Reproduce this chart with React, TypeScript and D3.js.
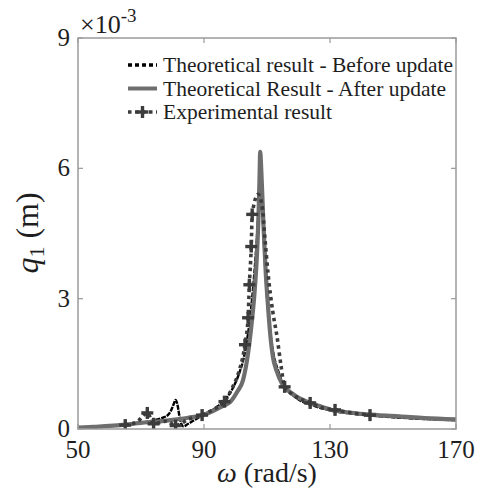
import React from "react";
import * as d3 from "d3";

const W = 478;
const H = 491;

const xTicks = [50, 90, 130, 170];
const yTicks = [0, 3, 6, 9];

// Theoretical result - Before update (q in 1e-3 m)
const beforeOmega = [50, 55, 60, 65, 70, 74, 77, 78.5, 79.5, 80.3, 81, 81.6, 82.2, 82.8, 83.5, 85, 88, 91, 94, 97, 99, 101, 102.5, 104, 105, 106, 106.8, 107.4, 107.9, 108.4, 109, 109.6, 110.3, 111, 112, 113.5, 115, 117, 120, 125, 130, 140, 150, 160, 170];
const beforeQ = [0.03, 0.05, 0.07, 0.1, 0.14, 0.2, 0.26, 0.32, 0.42, 0.56, 0.67, 0.55, 0.3, 0.12, 0.06, 0.12, 0.25, 0.37, 0.5, 0.7, 0.92, 1.25, 1.6, 2.2, 2.8, 3.6, 4.4, 5.1, 5.5, 5.2, 4.3, 3.5, 2.75, 2.25, 1.75, 1.35, 1.05, 0.86, 0.68, 0.53, 0.43, 0.33, 0.27, 0.23, 0.2];

// Theoretical Result - After update
const afterOmega = [50, 55, 60, 65, 70, 75, 80, 85, 90, 93, 96, 98.3, 100.5, 102.4, 104, 105, 106, 106.8, 107.3, 107.6, 107.85, 108.1, 108.5, 109, 109.6, 110.3, 111, 111.9, 113, 115.1, 117.5, 120.5, 125.9, 130, 136, 145, 152, 160, 170];
const afterQ = [0.03, 0.05, 0.07, 0.1, 0.14, 0.17, 0.21, 0.26, 0.33, 0.42, 0.53, 0.62, 0.85, 1.13, 1.75, 2.35, 3.1, 4.0, 4.9, 5.7, 6.38, 6.1, 5.4, 4.5, 3.6, 2.85, 2.2, 1.65, 1.35, 1.0, 0.84, 0.7, 0.55, 0.45, 0.38, 0.32, 0.29, 0.25, 0.22];

// Experimental result
const expOmega = [65, 69, 72, 74, 78, 81, 85, 89.4, 93, 96.5, 99, 101, 103, 104, 104.4, 105, 105.3, 107.2, 108.4, 109.4, 110.3, 111.9, 113.2, 114.4, 115.6, 118, 123.7, 127, 131.6, 137, 142.7];
const expQ = [0.09, 0.18, 0.37, 0.12, 0.18, 0.08, 0.22, 0.32, 0.45, 0.63, 0.95, 1.3, 1.94, 2.56, 3.32, 4.2, 4.94, 5.4, 5.15, 4.34, 3.6, 2.67, 2.12, 1.48, 0.97, 0.8, 0.6, 0.5, 0.44, 0.37, 0.32];
const expMarked = [1, 0, 1, 1, 0, 1, 0, 1, 0, 1, 0, 0, 1, 1, 1, 1, 1, 0, 0, 0, 0, 0, 0, 0, 1, 0, 1, 0, 1, 0, 1];

const legendLabels = [
  "Theoretical result - Before update",
  "Theoretical Result - After update",
  "Experimental result",
];

const FONT = "'Liberation Serif', 'Times New Roman', serif";
const AXIS_COLOR = "#9a9a9a";
const GRAY = "#6e6e6e";
const EXP = "#3c3c3c";
const TXT = "#1e1e1e";

export default function App() {
  const x = d3.scaleLinear().domain([50, 170]).range([78, 456]);
  const y = d3.scaleLinear().domain([0, 9]).range([429, 38]);

  const line = d3
    .line<[number, number]>()
    .x((d) => x(d[0]))
    .y((d) => y(d[1]))
    .curve(d3.curveMonotoneX);

  const beforeData = beforeOmega.map((w, i) => [w, beforeQ[i]] as [number, number]);
  const afterData = afterOmega.map((w, i) => [w, afterQ[i]] as [number, number]);
  const expData = expOmega.map((w, i) => [w, expQ[i]] as [number, number]);

  const [x0, x1] = x.range();
  const [y0, y1] = y.range();

  const plus = (cx: number, cy: number, key: string | number) => (
    <g key={key} stroke={EXP} strokeWidth={3.4}>
      <line x1={cx - 6} x2={cx + 6} y1={cy} y2={cy} />
      <line x1={cx} x2={cx} y1={cy - 6} y2={cy + 6} />
    </g>
  );

  const legX = 128;
  const legY = [65, 88.5, 112];

  return (
    <svg
      width={W}
      height={H}
      style={{ position: "absolute", left: 0, top: 0, background: "#fff", fontFamily: FONT }}
    >
      <rect width={W} height={H} fill="#fff" />
      <defs>
        <clipPath id="plotclip">
          <rect x={x0} y={y1} width={x1 - x0} height={y0 - y1} />
        </clipPath>
      </defs>

      {/* curves */}
      <g clipPath="url(#plotclip)" fill="none">
        <path d={line(beforeData) || ""} stroke="#000" strokeWidth={2.4} strokeDasharray="5,1" />
        <path d={line(afterData) || ""} stroke={GRAY} strokeWidth={4.2} strokeLinejoin="round" strokeLinecap="round" />
        <path d={line(expData) || ""} stroke={EXP} strokeWidth={3.6} strokeDasharray="3.5,3.5" />
        {expData.map((d, i) => (expMarked[i] ? plus(x(d[0]), y(d[1]), i) : null))}
      </g>

      {/* axes box */}
      <rect x={x0} y={y1} width={x1 - x0} height={y0 - y1} fill="none" stroke={AXIS_COLOR} strokeWidth={1.5} />
      {xTicks.map((t) => (
        <g key={"xt" + t}>
          <line x1={x(t)} x2={x(t)} y1={y0} y2={y0 - 5} stroke={AXIS_COLOR} strokeWidth={1.2} />
          <line x1={x(t)} x2={x(t)} y1={y1} y2={y1 + 5} stroke={AXIS_COLOR} strokeWidth={1.2} />
          <text x={x(t)} y={y0 + 29} textAnchor="middle" fontSize={25} fill={TXT}>
            {t}
          </text>
        </g>
      ))}
      {yTicks.map((t) => (
        <g key={"yt" + t}>
          <line x1={x0} x2={x0 + 5} y1={y(t)} y2={y(t)} stroke={AXIS_COLOR} strokeWidth={1.2} />
          <line x1={x1} x2={x1 - 5} y1={y(t)} y2={y(t)} stroke={AXIS_COLOR} strokeWidth={1.2} />
          <text x={x0 - 8} y={y(t) + 8} textAnchor="end" fontSize={25} fill={TXT}>
            {t}
          </text>
        </g>
      ))}

      {/* exponent */}
      <text x={80} y={33} fontSize={26} fill={TXT}>
        ×10
        <tspan dy={-11} fontSize={19}>-3</tspan>
      </text>

      {/* axis labels */}
      <text x={267} y={482} textAnchor="middle" fontSize={28} fill={TXT}>
        <tspan fontStyle="italic">ω</tspan> (rad/s)
      </text>
      <text transform="translate(38,233) rotate(-90)" textAnchor="middle" fontSize={32} fill={TXT}>
        <tspan fontStyle="italic">q</tspan>
        <tspan fontSize={22} dy={6}>1</tspan>
        <tspan dy={-6}> (m)</tspan>
      </text>

      {/* legend */}
      <g>
        <line x1={legX} x2={legX + 29} y1={legY[0]} y2={legY[0]} stroke="#000" strokeWidth={3.5} strokeDasharray="4,3" />
        <line x1={legX} x2={legX + 29} y1={legY[1]} y2={legY[1]} stroke={GRAY} strokeWidth={4} />
        <line x1={legX} x2={legX + 29} y1={legY[2]} y2={legY[2]} stroke={EXP} strokeWidth={3.6} strokeDasharray="3.5,3.5" />
        {plus(legX + 14.5, legY[2], "lp")}
        {legendLabels.map((l, i) => (
          <text key={l} x={legX + 35} y={legY[i] + 7} fontSize={21.5} fill={TXT}>
            {l}
          </text>
        ))}
      </g>
    </svg>
  );
}
